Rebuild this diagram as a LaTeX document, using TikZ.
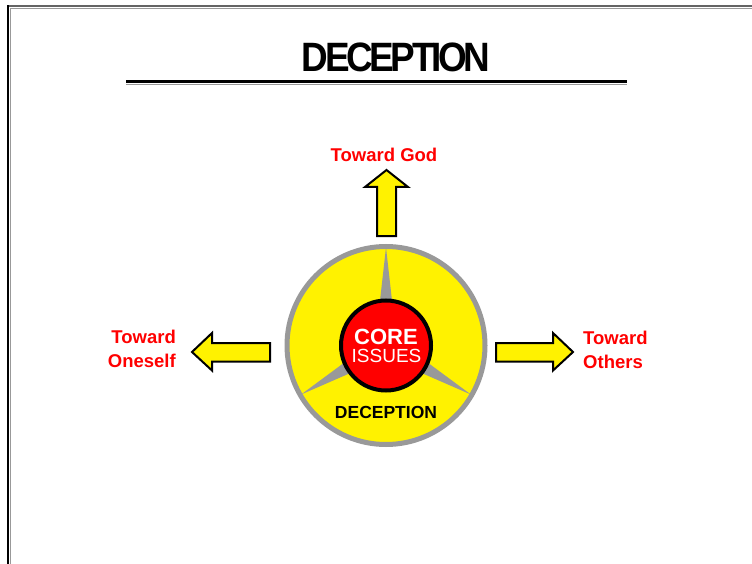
\documentclass[tikz,border=0pt]{standalone}
\usepackage{fontspec}
\setmainfont{Liberation Sans}
\usetikzlibrary{calc}

\definecolor{ringgray}{RGB}{153,153,153}
\definecolor{framegray}{RGB}{100,100,100}
\tikzset{
  blockarrow/.style={draw=black, fill=yellow, line width=2pt, line join=miter},
  towardlabel/.style={text=red, inner sep=0pt, font=\fontsize{18.5}{24}\selectfont\bfseries},
}

\begin{document}
\begin{tikzpicture}[x=1pt, y=-1pt]
	\useasboundingbox (0,0) rectangle (752,564);
	
	% Page frame
	\draw[framegray, line width=2pt] (7.5,6) -- (752,6);
	\draw[ringgray, line width=1.5pt] (10,8.3) -- (752,8.3);
	\draw[black, line width=1.7pt] (8.2,5.5) -- (8.2,564);
	\draw[ringgray, line width=1pt] (10.6,9) -- (10.6,564);
	
	% Title and rule
	\node[anchor=base, inner sep=0pt, font=\fontsize{41}{41}\selectfont\bfseries] (title) at (396,72) {\scalebox{0.9}[1]{\addfontfeature{LetterSpace=-9}DECEPTION}};
	\draw[black, line width=3pt] (126,81.5) -- (627,81.5);
	\draw[ringgray, line width=1.2pt] (126,84.7) -- (627,84.7);
	
	% Wheel
	\coordinate (hub) at (386,345.5);
	\fill[yellow] (hub) circle (99);
	\foreach \a in {270,30,150}
		\fill[ringgray] ($(hub)+(\a:98)$) -- ($(hub)+(\a:45)+(\a+90:6)$) -- ($(hub)+(\a:45)+(\a-90:6)$) -- cycle;
	\draw[ringgray, line width=5pt] (hub) circle (99);
	\node[circle, draw=black, fill=red, line width=4pt, minimum size=90pt, inner sep=0pt] (core) at (hub) {};
	\node[anchor=base, inner sep=0pt, text=white, font=\fontsize{22}{22}\selectfont\bfseries] (coreword) at (386,344) {CORE};
	\node[anchor=base, inner sep=0pt, text=white, font=\fontsize{19}{19}\selectfont] (issues) at (386.5,362.5) {ISSUES};
	\node[anchor=base, inner sep=0pt, font=\fontsize{17.5}{17.5}\selectfont\bfseries] (wheelname) at (386,418) {DECEPTION};
	
	% Block arrows
	\draw[blockarrow] (386.5,170) -- (408,187) -- (396,187) -- (396,236) -- (377,236) -- (377,187) -- (365,187) -- cycle;
	\draw[blockarrow] (192,352) -- (212,333) -- (212,343) -- (270,343) -- (270,361.5) -- (212,361.5) -- (212,370.5) -- cycle;
	\draw[blockarrow] (573,352) -- (553,333) -- (553,343) -- (496,343) -- (496,361.5) -- (553,361.5) -- (553,370.5) -- cycle;
	
	% Labels
	\node[towardlabel, anchor=base] (god) at (384,162) {Toward God};
	\node[towardlabel, align=right, anchor=north east] (oneself) at (176,330) {Toward\\Oneself};
	\node[towardlabel, align=left, anchor=north west] (others) at (583,330.5) {Toward\\Others};
\end{tikzpicture}
\end{document}
